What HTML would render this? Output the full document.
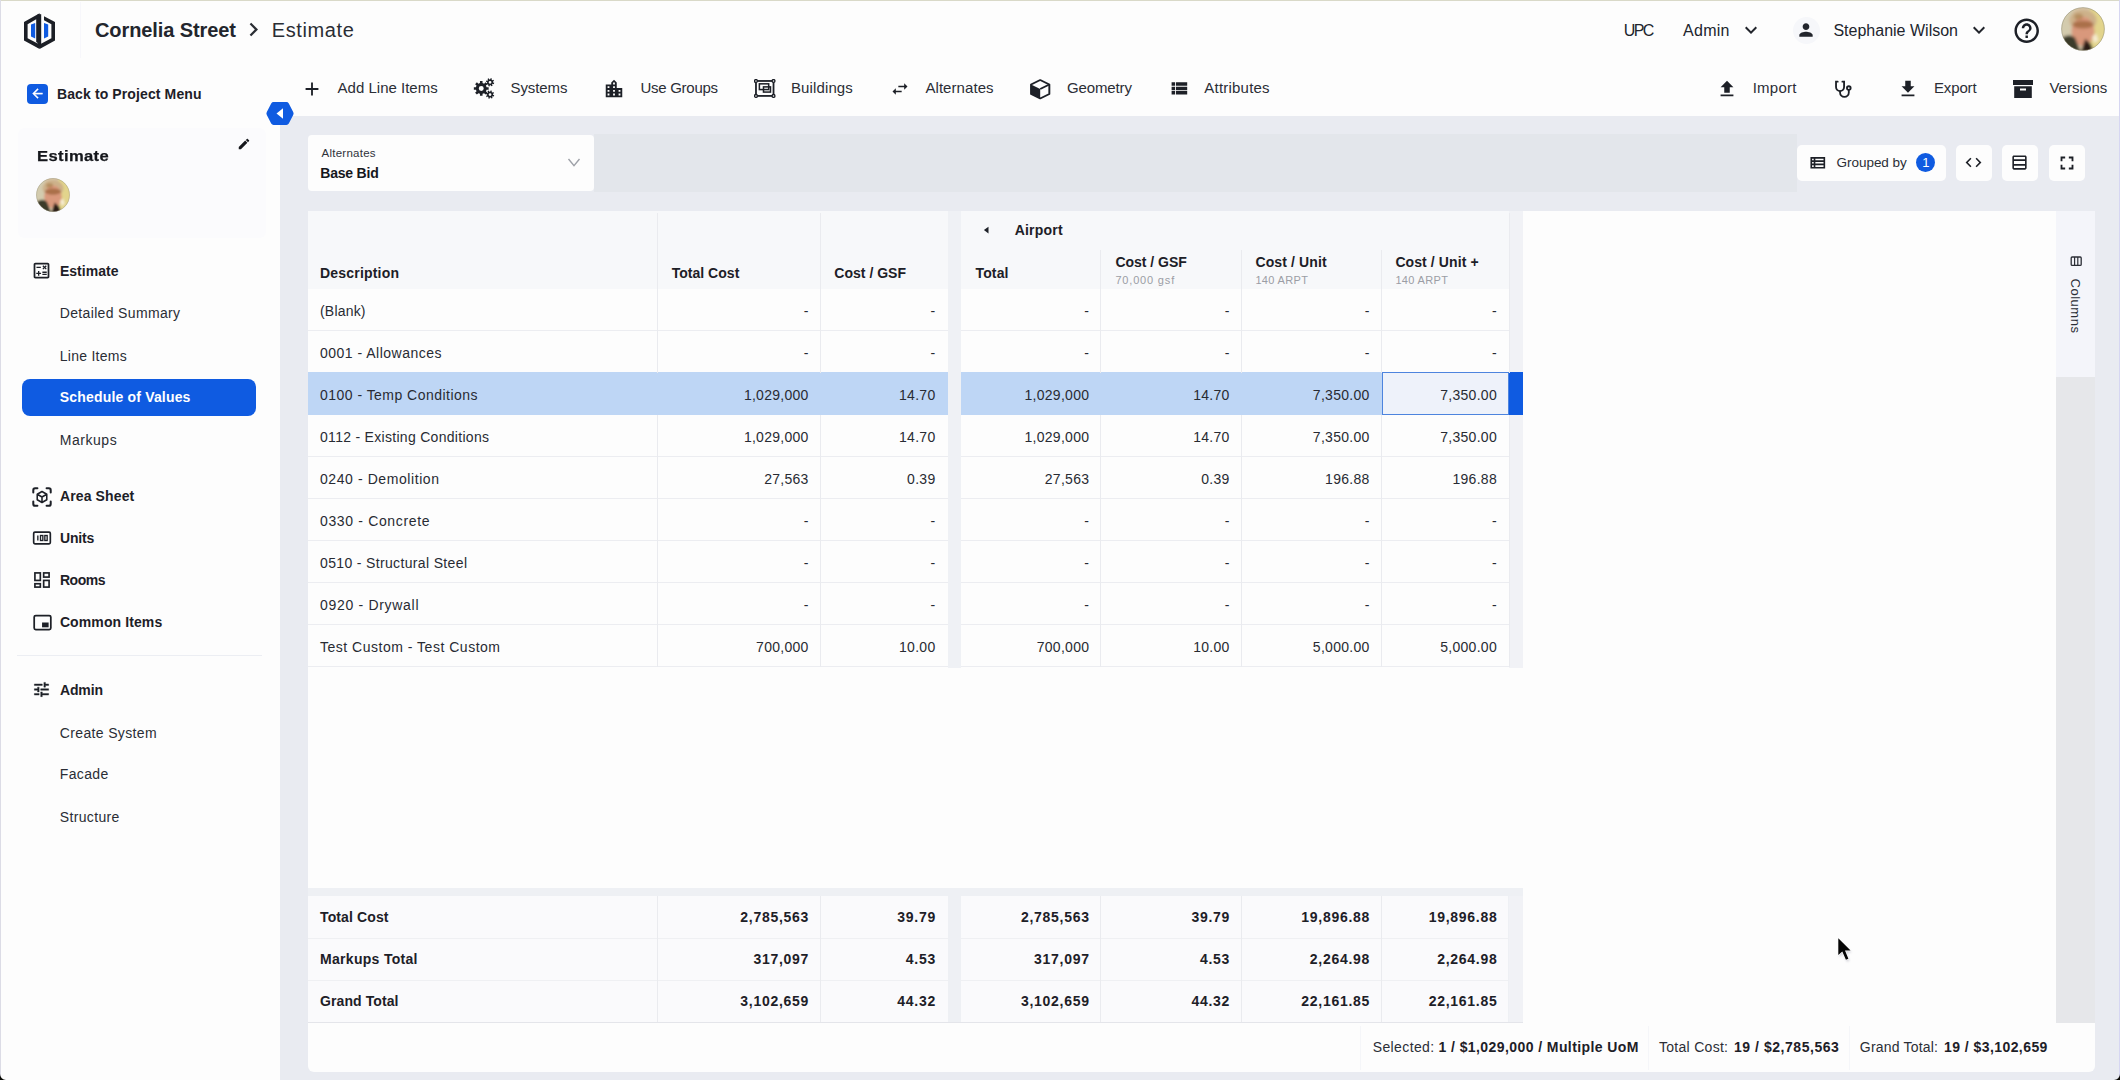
<!DOCTYPE html>
<html><head><meta charset="utf-8"><title>Estimate</title>
<style>
html,body{margin:0;padding:0;}
body{width:2120px;height:1080px;position:relative;overflow:hidden;background:#fdfdfd;font-family:"Liberation Sans",sans-serif;}
body>div,body>span,body>svg{position:absolute;}
body>span{white-space:nowrap;display:block;}
</style></head><body>
<div style="left:0px;top:0px;width:2120px;height:1080px;background:#fdfdfd;"></div>
<div style="left:280px;top:116px;width:1840px;height:964px;background:#e9ebf1;"></div>
<div style="left:18px;top:128px;width:248px;height:110px;background:#fbfbfd;border-radius:6px;"></div>
<div style="left:17px;top:655px;width:245px;height:1px;background:#eceef3;"></div>
<div style="left:0px;top:0px;width:2120px;height:1px;background:#d9d9c8;"></div>
<div style="left:0px;top:0px;width:1px;height:1080px;background:#dcdce6;"></div>
<div style="left:2119px;top:0px;width:1px;height:1080px;background:#d6d6f2;"></div>
<svg style="left:22px;top:11px;" width="36" height="40" viewBox="0 0 36 40">
<path d="M17.6 2.2 L2 11 V29.5 L17.6 38 L17.6 33.6 L5.6 27.2 V13.2 L14.2 8.3 V31 L17.6 32.9 Z" fill="#1c1f26" stroke="none"/>
<path d="M15.6 3.2 h3.6 v33.6 h-3.6z" fill="#1c1f26"/>
<path d="M22 5.2 L33 11 V29.5 L17.6 38 V33.6 L29.4 27.2 V13.2 L22 9.2 Z" fill="#1c1f26"/>
<path d="M9 13.6 L13.2 12 V27.6 L9 25.6 Z" fill="#0f5be1"/>
<path d="M22 12 L26.2 13.6 V25.6 L22 27.6 Z" fill="#0f5be1"/>
</svg>
<div style="left:80px;top:2px;width:1px;height:56px;background:#f7f7fb;"></div>
<span style="top:17.93px;font-size:20px;line-height:24.00px;color:#23262d;font-weight:700;letter-spacing:-0.090px;left:95.00px;">Cornelia Street</span>
<svg style="left:239.6px;top:15.7px;" width="27" height="27" viewBox="0 0 24 24"><path fill="#2a2d34" d="M10 6L8.59 7.41 13.17 12l-4.58 4.59L10 18l6-6z"/></svg>
<span style="top:17.93px;font-size:20px;line-height:24.00px;color:#2a2d34;letter-spacing:0.614px;left:271.70px;">Estimate</span>
<span style="top:20.58px;font-size:16px;line-height:19.20px;color:#21252d;letter-spacing:-1.591px;left:1623.80px;">UPC</span>
<span style="top:20.58px;font-size:16px;line-height:19.20px;color:#21252d;letter-spacing:0.287px;left:1683.00px;">Admin</span>
<svg style="left:1738.6px;top:18px;" width="24" height="24" viewBox="0 0 24 24"><path fill="#22252c" d="M7.41 8.59L12 13.17l4.59-4.58L18 10l-6 6-6-6 1.41-1.41z"/></svg>
<div style="left:1792.5px;top:16.5px;width:27px;height:27px;background:#f6f7fa;border-radius:50%;"></div>
<svg style="left:1796px;top:20px;" width="20" height="20" viewBox="0 0 24 24"><path fill="#22252c" d="M12 12c2.21 0 4-1.79 4-4s-1.79-4-4-4-4 1.79-4 4 1.79 4 4 4zm0 2c-2.67 0-8 1.34-8 4v2h16v-2c0-2.66-5.33-4-8-4z"/></svg>
<span style="top:20.58px;font-size:16px;line-height:19.20px;color:#21252d;letter-spacing:0.006px;left:1833.40px;">Stephanie Wilson</span>
<svg style="left:1967px;top:18px;" width="24" height="24" viewBox="0 0 24 24"><path fill="#22252c" d="M7.41 8.59L12 13.17l4.59-4.58L18 10l-6 6-6-6 1.41-1.41z"/></svg>
<svg style="left:2011.5px;top:15.8px;" width="29.4" height="29.4" viewBox="0 0 24 24"><path fill="#1d2027" d="M11 18h2v-2h-2v2zm1-16C6.48 2 2 6.48 2 12s4.48 10 10 10 10-4.48 10-10S17.52 2 12 2zm0 18c-4.41 0-8-3.59-8-8s3.59-8 8-8 8 3.59 8 8-3.59 8-8 8zm0-14c-2.21 0-4 1.79-4 4h2c0-1.1.9-2 2-2s2 .9 2 2c0 2-3 1.75-3 5h2c0-2.25 3-2.5 3-5 0-2.21-1.79-4-4-4z"/></svg>
<svg style="left:2061px;top:7px;" width="44" height="44" viewBox="0 0 100 100">
<defs><clipPath id="av2083"><circle cx="50" cy="50" r="49"/></clipPath>
<filter id="bl2083" x="-20%" y="-20%" width="140%" height="140%"><feGaussianBlur stdDeviation="3.2"/></filter></defs>
<g clip-path="url(#av2083)"><g filter="url(#bl2083)">
<rect x="-10" y="-10" width="120" height="120" fill="#d6c4a6"/>
<rect x="66" y="-10" width="44" height="120" fill="#e2d48c"/>
<rect x="-10" y="-10" width="36" height="75" fill="#d3cbae"/>
<ellipse cx="50" cy="30" rx="31" ry="24" fill="#cdb18a"/>
<ellipse cx="50" cy="55" rx="26" ry="33" fill="#d9987b"/>
<ellipse cx="50" cy="40" rx="24" ry="9" fill="#9a6238" opacity="0.75"/>
<ellipse cx="40" cy="22" rx="10" ry="7" fill="#a67c48" opacity="0.6"/>
<path d="M-5 105 L2 70 Q20 58 32 70 L46 105Z" fill="#3a3a2a"/>
<path d="M44 105 L55 72 L68 84 L76 105Z" fill="#2a1e14"/>
<path d="M70 68 L80 60 L85 76 L76 82Z" fill="#f6ecd0"/>
</g></g>
<circle cx="50" cy="50" r="48.6" fill="none" stroke="#8f8a70" stroke-width="1.6" opacity="0.75"/>
</svg>
<div style="left:26.8px;top:84px;width:20.8px;height:20.4px;background:#0f5be1;border-radius:4px;"></div>
<svg style="left:29.6px;top:86.2px;stroke:#fff;stroke-width:0.6px;" width="15" height="15" viewBox="0 0 24 24"><path fill="#ffffff" d="M20 11H7.83l5.59-5.59L12 4l-8 8 8 8 1.41-1.41L7.83 13H20v-2z"/></svg>
<span style="top:85.76px;font-size:14px;line-height:16.80px;color:#1d2027;font-weight:700;letter-spacing:0.112px;left:57.00px;">Back to Project Menu</span>
<svg style="left:266px;top:101px;" width="28" height="25" viewBox="0 0 28 25"><path d="M7.6 1 H20.4 Q22 1 22.8 2.4 L27.2 11 Q28 12.5 27.2 14 L22.8 22.6 Q22 24 20.4 24 H7.6 Q6 24 5.2 22.6 L0.8 14 Q0 12.5 0.8 11 L5.2 2.4 Q6 1 7.6 1Z" fill="#0f5be1"/><path d="M17 7.2 V17.8 L10.5 12.5Z" fill="#fff"/></svg>
<svg style="left:300.8px;top:78px;" width="22" height="22" viewBox="0 0 24 24"><path fill="#1d2027" d="M19 13h-6v6h-2v-6H5v-2h6V5h2v6h6v2z"/></svg>
<span style="top:78.97px;font-size:15px;line-height:18.00px;color:#2b2e36;left:337.60px;">Add Line Items</span>
<svg style="left:473.4px;top:76.9px;" width="22" height="22" viewBox="0 0 24 24"><path fill-rule="evenodd" fill="#1d2027" d="M17.08 11.09 L17.08 13.91 L14.83 13.90 L14.12 15.63 L15.71 17.22 L13.72 19.21 L12.13 17.62 L10.40 18.33 L10.41 20.58 L7.59 20.58 L7.60 18.33 L5.87 17.62 L4.28 19.21 L2.29 17.22 L3.88 15.63 L3.17 13.90 L0.92 13.91 L0.92 11.09 L3.17 11.10 L3.88 9.37 L2.29 7.78 L4.28 5.79 L5.87 7.38 L7.60 6.67 L7.59 4.42 L10.41 4.42 L10.40 6.67 L12.13 7.38 L13.72 5.79 L15.71 7.78 L14.12 9.37 L14.83 11.10Z M11.70 12.50 A2.7 2.7 0 1 0 6.30 12.50 A2.7 2.7 0 1 0 11.70 12.50Z"/><path fill-rule="evenodd" fill="#1d2027" d="M23.16 6.38 L22.70 7.89 L21.44 7.48 L20.78 8.28 L21.41 9.44 L20.01 10.18 L19.42 9.00 L18.39 9.09 L18.02 10.36 L16.51 9.90 L16.92 8.64 L16.12 7.98 L14.96 8.61 L14.22 7.21 L15.40 6.62 L15.31 5.59 L14.04 5.22 L14.50 3.71 L15.76 4.12 L16.42 3.32 L15.79 2.16 L17.19 1.42 L17.78 2.60 L18.81 2.51 L19.18 1.24 L20.69 1.70 L20.28 2.96 L21.08 3.62 L22.24 2.99 L22.98 4.39 L21.80 4.98 L21.89 6.01Z M20.10 5.80 A1.5 1.5 0 1 0 17.10 5.80 A1.5 1.5 0 1 0 20.10 5.80Z"/><path fill-rule="evenodd" fill="#1d2027" d="M23.16 19.78 L22.70 21.29 L21.44 20.88 L20.78 21.68 L21.41 22.84 L20.01 23.58 L19.42 22.40 L18.39 22.49 L18.02 23.76 L16.51 23.30 L16.92 22.04 L16.12 21.38 L14.96 22.01 L14.22 20.61 L15.40 20.02 L15.31 18.99 L14.04 18.62 L14.50 17.11 L15.76 17.52 L16.42 16.72 L15.79 15.56 L17.19 14.82 L17.78 16.00 L18.81 15.91 L19.18 14.64 L20.69 15.10 L20.28 16.36 L21.08 17.02 L22.24 16.39 L22.98 17.79 L21.80 18.38 L21.89 19.41Z M20.10 19.20 A1.5 1.5 0 1 0 17.10 19.20 A1.5 1.5 0 1 0 20.10 19.20Z"/></svg>
<span style="top:78.97px;font-size:15px;line-height:18.00px;color:#2b2e36;letter-spacing:-0.085px;left:510.50px;">Systems</span>
<svg style="left:603px;top:78px;" width="22" height="22" viewBox="0 0 24 24"><path fill="#1d2027" d="M15 11V5l-3-3-3 3v2H3v14h18V11h-6zm-8 8H5v-2h2v2zm0-4H5v-2h2v2zm0-4H5V9h2v2zm6 8h-2v-2h2v2zm0-4h-2v-2h2v2zm0-4h-2V9h2v2zm0-4h-2V5h2v2zm6 12h-2v-2h2v2zm0-4h-2v-2h2v2z"/></svg>
<span style="top:78.97px;font-size:15px;line-height:18.00px;color:#2b2e36;letter-spacing:-0.281px;left:640.50px;">Use Groups</span>
<svg style="left:754.4px;top:79.4px;" width="21.5" height="18.9" viewBox="0 0 24 21.1"><g fill="none" stroke="#1d2027" stroke-width="2">
<rect x="2.2" y="2.2" width="19.6" height="16.7"/>
<rect x="6" y="5.4" width="10.4" height="6.4" stroke-width="1.7"/>
<rect x="10.6" y="8.8" width="7.8" height="5.8" stroke-width="1.7"/></g>
<g fill="#fdfdfd" stroke="#1d2027" stroke-width="1.5"><circle cx="2.2" cy="2.2" r="1.6"/><circle cx="21.8" cy="2.2" r="1.6"/><circle cx="2.2" cy="18.9" r="1.6"/><circle cx="21.8" cy="18.9" r="1.6"/></g></svg>
<span style="top:78.97px;font-size:15px;line-height:18.00px;color:#2b2e36;letter-spacing:0.116px;left:791.00px;">Buildings</span>
<svg style="left:889.5px;top:78.5px;" width="20" height="20" viewBox="0 0 24 24"><path fill="#1d2027" d="M6.99 11L3 15l3.99 4v-3H14v-2H6.99v-3zM21 9l-3.99-4v3H10v2h7.01v3L21 9z"/></svg>
<span style="top:78.97px;font-size:15px;line-height:18.00px;color:#2b2e36;letter-spacing:0.074px;left:925.40px;">Alternates</span>
<svg style="left:1028.35px;top:78.05px;" width="24.4" height="22.5" viewBox="0 0 24 24" preserveAspectRatio="none"><path d="M12 2.2 L21 7 V17 L12 21.8 L3 17 V7Z" fill="none" stroke="#1d2027" stroke-width="1.9" stroke-linejoin="round"/>
<path d="M3 7 L12 11.8 V21.8 L3 17Z" fill="#1d2027"/><path d="M12 11.8 L21 7" stroke="#1d2027" stroke-width="1.9"/></svg>
<span style="top:78.97px;font-size:15px;line-height:18.00px;color:#2b2e36;letter-spacing:-0.122px;left:1067.00px;">Geometry</span>
<svg style="left:1168.9px;top:78px;" width="20.8" height="20.8" viewBox="0 0 24 24"><path fill="#1d2027" d="M3 14h4v-4H3v4zm0 5h4v-4H3v4zM3 9h4V5H3v4zm5 5h13v-4H8v4zm0 5h13v-4H8v4zM8 5v4h13V5H8z"/></svg>
<span style="top:78.97px;font-size:15px;line-height:18.00px;color:#2b2e36;letter-spacing:0.215px;left:1204.30px;">Attributes</span>
<svg style="left:1715.8px;top:77.5px;" width="22" height="22" viewBox="0 0 24 24"><path fill="#1d2027" d="M9 16h6v-6h4l-7-7-7 7h4zm-4 2h14v2H5z"/></svg>
<span style="top:78.97px;font-size:15px;line-height:18.00px;color:#2b2e36;letter-spacing:0.258px;left:1752.70px;">Import</span>
<svg style="left:1832.4px;top:78.6px;" width="21" height="21" viewBox="0 0 24 24"><g fill="none" stroke="#1d2027" stroke-width="2.1" stroke-linecap="round">
<path d="M6.5 3 H4.6 V9.2 A4.6 4.6 0 0 0 13.8 9.2 V3 H11.9"/>
<path d="M9.2 13.8 V15.5 A5 5 0 0 0 19.2 15.5 V12.6"/>
<circle cx="19.2" cy="10.4" r="2.1"/></g></svg>
<svg style="left:1896.5px;top:77.5px;" width="22" height="22" viewBox="0 0 24 24"><path fill="#1d2027" d="M19 9h-4V3H9v6H5l7 7 7-7zM5 18v2h14v-2H5z"/></svg>
<span style="top:78.97px;font-size:15px;line-height:18.00px;color:#2b2e36;letter-spacing:-0.150px;left:1934.00px;">Export</span>
<svg style="left:2011.3px;top:77px;" width="24" height="24" viewBox="0 0 24 24"><path d="M2 3 H22 V8 H2Z" fill="#1d2027"/><path d="M3.2 9.2 H20.8 V21 H3.2Z M9 11.6 H15 V13.6 H9Z" fill="#1d2027" fill-rule="evenodd"/></svg>
<span style="top:78.97px;font-size:15px;line-height:18.00px;color:#2b2e36;letter-spacing:0.053px;left:2049.40px;">Versions</span>
<span style="top:146.58px;font-size:15.5px;line-height:18.60px;color:#15171c;font-weight:700;letter-spacing:0.343px;left:36.50px;transform:scaleX(1.07);transform-origin:0 0;-webkit-text-stroke:0.25px #15171c;">Estimate</span>
<svg style="left:236.5px;top:137px;" width="14" height="14" viewBox="0 0 24 24"><path fill="#15171c" d="M3 17.25V21h3.75L17.81 9.94l-3.75-3.75L3 17.25zM20.71 7.04c.39-.39.39-1.02 0-1.41l-2.34-2.34c-.39-.39-1.02-.39-1.41 0l-1.83 1.83 3.75 3.75 1.83-1.83z"/></svg>
<svg style="left:36.3px;top:178px;" width="34" height="34" viewBox="0 0 100 100">
<defs><clipPath id="av53"><circle cx="50" cy="50" r="49"/></clipPath>
<filter id="bl53" x="-20%" y="-20%" width="140%" height="140%"><feGaussianBlur stdDeviation="3.2"/></filter></defs>
<g clip-path="url(#av53)"><g filter="url(#bl53)">
<rect x="-10" y="-10" width="120" height="120" fill="#d6c4a6"/>
<rect x="66" y="-10" width="44" height="120" fill="#e2d48c"/>
<rect x="-10" y="-10" width="36" height="75" fill="#d3cbae"/>
<ellipse cx="50" cy="30" rx="31" ry="24" fill="#cdb18a"/>
<ellipse cx="50" cy="55" rx="26" ry="33" fill="#d9987b"/>
<ellipse cx="50" cy="40" rx="24" ry="9" fill="#9a6238" opacity="0.75"/>
<ellipse cx="40" cy="22" rx="10" ry="7" fill="#a67c48" opacity="0.6"/>
<path d="M-5 105 L2 70 Q20 58 32 70 L46 105Z" fill="#3a3a2a"/>
<path d="M44 105 L55 72 L68 84 L76 105Z" fill="#2a1e14"/>
<path d="M70 68 L80 60 L85 76 L76 82Z" fill="#f6ecd0"/>
</g></g>
<circle cx="50" cy="50" r="48.6" fill="none" stroke="#8f8a70" stroke-width="1.6" opacity="0.75"/>
</svg>
<svg style="left:31.4px;top:259.9px;" width="21" height="21" viewBox="0 0 24 24"><path fill="#1d2027" d="M19 3H5c-1.1 0-2 .9-2 2v14c0 1.1.9 2 2 2h14c1.1 0 2-.9 2-2V5c0-1.1-.9-2-2-2zm0 16H5V5h14v14z M6.25 7.72h5v1.5h-5z M13 15.75h5v1.5h-5z M13 13.25h5v1.5h-5z M8 18h1.5v-2h2v-1.5h-2v-2H8v2H6V16h2z M14.09 10.95l1.41-1.41 1.41 1.41 1.06-1.06-1.41-1.42 1.41-1.41L16.91 6 15.5 7.41 14.09 6l-1.06 1.06 1.41 1.41-1.41 1.42z"/></svg>
<span style="top:263.06px;font-size:14px;line-height:16.80px;color:#1d2027;font-weight:700;letter-spacing:0.034px;left:59.90px;">Estimate</span>
<span style="top:305.36px;font-size:14px;line-height:16.80px;color:#2a2d35;letter-spacing:0.337px;left:59.80px;">Detailed Summary</span>
<span style="top:347.66px;font-size:14px;line-height:16.80px;color:#2a2d35;letter-spacing:0.257px;left:59.80px;">Line Items</span>
<div style="left:22px;top:379.4px;width:233.8px;height:36.8px;background:#0f5be1;border-radius:8px;"></div>
<span style="top:389.46px;font-size:14px;line-height:16.80px;color:#ffffff;font-weight:700;letter-spacing:0.176px;left:59.80px;">Schedule of Values</span>
<span style="top:431.76px;font-size:14px;line-height:16.80px;color:#2a2d35;letter-spacing:0.536px;left:59.80px;">Markups</span>
<svg style="left:31px;top:485.5px;" width="22" height="22" viewBox="0 0 24 24"><g fill="none" stroke="#1d2027" stroke-width="2.2" stroke-linecap="round" stroke-linejoin="round">
<path d="M2.5 7 V4.5 Q2.5 2.5 4.5 2.5 H7 M17 2.5 H19.5 Q21.5 2.5 21.5 4.5 V7 M21.5 17 V19.5 Q21.5 21.5 19.5 21.5 H17 M7 21.5 H4.5 Q2.5 21.5 2.5 19.5 V17"/>
<path d="M12 6 L17.2 9 V15 L12 18 L6.8 15 V9Z M6.8 9 L12 12 L17.2 9 M12 12 V18" stroke-width="1.7"/></g></svg>
<span style="top:487.76px;font-size:14px;line-height:16.80px;color:#1d2027;font-weight:700;letter-spacing:0.139px;left:59.90px;">Area Sheet</span>
<svg style="left:32px;top:528px;" width="20" height="20" viewBox="0 0 24 24"><rect x="2" y="5" width="20" height="14" rx="1.5" fill="none" stroke="#1d2027" stroke-width="2"/>
<g fill="none" stroke="#1d2027" stroke-width="1.6"><path d="M7 9 V15"/><rect x="10.2" y="9" width="2.8" height="6"/><rect x="15.4" y="9" width="2.8" height="6"/></g></svg>
<span style="top:529.76px;font-size:14px;line-height:16.80px;color:#1d2027;font-weight:700;letter-spacing:-0.125px;left:59.90px;">Units</span>
<svg style="left:32px;top:570px;" width="20" height="20" viewBox="0 0 24 24"><g fill="none" stroke="#1d2027" stroke-width="2"><rect x="3.5" y="3.5" width="6.5" height="9"/><rect x="14" y="3.5" width="6.5" height="5"/><rect x="14" y="12.5" width="6.5" height="8"/><rect x="3.5" y="16.5" width="6.5" height="4"/></g></svg>
<span style="top:572.26px;font-size:14px;line-height:16.80px;color:#1d2027;font-weight:700;letter-spacing:-0.437px;left:59.90px;">Rooms</span>
<svg style="left:31.5px;top:612px;" width="21" height="21" viewBox="0 0 24 24"><rect x="2.5" y="4" width="19" height="16" rx="1.8" fill="none" stroke="#1d2027" stroke-width="2"/><rect x="11.5" y="12" width="7.5" height="5.5" fill="#1d2027"/></svg>
<span style="top:614.06px;font-size:14px;line-height:16.80px;color:#1d2027;font-weight:700;letter-spacing:0.107px;left:59.90px;">Common Items</span>
<svg style="left:32px;top:680px;stroke:#1d2027;stroke-width:0.5px;" width="19" height="19" viewBox="0 0 24 24"><path fill="#1d2027" d="M3 17v2h6v-2H3zM3 5v2h10V5H3zm10 16v-2h8v-2h-8v-2h-2v6h2zM7 9v2H3v2h4v2h2V9H7zm14 4v-2H11v2h10zm-6-4h2V7h4V5h-4V3h-2v6z"/></svg>
<span style="top:681.56px;font-size:14px;line-height:16.80px;color:#1d2027;font-weight:700;letter-spacing:-0.113px;left:59.90px;">Admin</span>
<span style="top:724.76px;font-size:14px;line-height:16.80px;color:#2a2d35;letter-spacing:0.350px;left:59.80px;">Create System</span>
<span style="top:766.36px;font-size:14px;line-height:16.80px;color:#2a2d35;letter-spacing:0.350px;left:59.80px;">Facade</span>
<span style="top:808.96px;font-size:14px;line-height:16.80px;color:#2a2d35;letter-spacing:0.350px;left:59.80px;">Structure</span>
<svg style="left:0px;top:1074px;" width="6" height="6" viewBox="0 0 8 8"><path d="M0 0 V8 H8 A8 8 0 0 1 0 0Z" fill="#0a0a05"/></svg>
<svg style="left:2114px;top:1074px;" width="6" height="6" viewBox="0 0 8 8"><path d="M8 0 V8 H0 A8 8 0 0 0 8 0Z" fill="#0a0a05"/></svg>
<div style="left:594px;top:134px;width:1203px;height:57.5px;background:#e3e6eb;"></div>
<div style="left:308px;top:135px;width:286px;height:56px;background:#fdfdfd;border-radius:4px;"></div>
<span style="top:147.03px;font-size:11.5px;line-height:13.80px;color:#2f323a;letter-spacing:0.250px;left:321.50px;">Alternates</span>
<span style="top:164.96px;font-size:14px;line-height:16.80px;color:#15171c;font-weight:700;letter-spacing:-0.216px;left:320.30px;">Base Bid</span>
<svg style="left:567px;top:157px;" width="14" height="11" viewBox="0 0 14 11"><path d="M1.5 2 L7 8.6 L12.5 2" fill="none" stroke="#9ea1a8" stroke-width="1.4"/></svg>
<div style="left:1797px;top:144.5px;width:148.5px;height:36px;background:#fdfdfd;border-radius:5px;"></div>
<svg style="left:1807.5px;top:152.8px;" width="19.6" height="19.6" viewBox="0 0 24 24"><path fill="#1d2027" d="M3 5v14h18V5H3zm4 2v2H5V7h2zm-2 6v-2h2v2H5zm0 2h2v2H5v-2zm14 2H9v-2h10v2zm0-4H9v-2h10v2zm0-4H9V7h10v2z"/></svg>
<span style="top:154.56px;font-size:13.5px;line-height:16.20px;color:#2b2e36;letter-spacing:-0.027px;left:1836.50px;">Grouped by</span>
<div style="left:1916px;top:152.8px;width:19.4px;height:19.4px;background:#0f5be1;border-radius:50%;"></div>
<span style="top:154.85px;font-size:13px;line-height:15.60px;color:#ffffff;left:1922.20px;">1</span>
<div style="left:1955.5px;top:144.5px;width:36px;height:36px;background:#fdfdfd;border-radius:5px;"></div>
<svg style="left:1964px;top:153px;" width="19" height="19" viewBox="0 0 24 24"><path fill="#1d2027" d="M9.4 16.6L4.8 12l4.6-4.6L8 6l-6 6 6 6 1.4-1.4zm5.2 0l4.6-4.6-4.6-4.6L16 6l6 6-6 6-1.4-1.4z"/></svg>
<div style="left:2002px;top:144.5px;width:36px;height:36px;background:#fdfdfd;border-radius:5px;"></div>
<svg style="left:2009.8px;top:153.3px;" width="19" height="19" viewBox="0 0 24 24"><path fill="#1d2027" d="M19 3H5c-1.1 0-2 .9-2 2v14c0 1.1.9 2 2 2h14c1.1 0 2-.9 2-2V5c0-1.1-.9-2-2-2zm0 2v3H5V5h14zm0 5v4H5v-4h14zM5 19v-3h14v3H5z"/></svg>
<div style="left:2049px;top:144.5px;width:36px;height:36px;background:#fdfdfd;border-radius:5px;"></div>
<svg style="left:2056px;top:151.5px;" width="22" height="22" viewBox="0 0 24 24"><path fill="#1d2027" d="M7 14H5v5h5v-2H7v-3zm-2-4h2V7h3V5H5v5zm12 7h-3v2h5v-5h-2v3zM14 5v2h3v3h2V5h-5z"/></svg>
<div style="left:308px;top:211px;width:1787px;height:861px;background:#fdfdfd;border-radius:3px 3px 6px 6px;"></div>
<div style="left:308px;top:211px;width:639.5px;height:77.6px;background:#f7f8fa;"></div>
<div style="left:961px;top:211px;width:561.5px;height:77.6px;background:#f7f8fa;"></div>
<div style="left:947.5px;top:211px;width:13.5px;height:457px;background:#eff1f5;"></div>
<div style="left:1509px;top:211px;width:14px;height:457px;background:#f1f2f6;"></div>
<div style="left:2056px;top:211px;width:38.5px;height:812px;background:#e6e7ea;"></div>
<div style="left:2056px;top:211px;width:38.5px;height:166px;background:#f4f5fa;"></div>
<svg style="left:2069.6px;top:256.2px;" width="12.4" height="11" viewBox="0 0 12 11"><rect x="1" y="1" width="10" height="8.4" rx="1" fill="none" stroke="#2b2e36" stroke-width="1.3"/><path d="M4.4 1V9.4M7.6 1V9.4" stroke="#2b2e36" stroke-width="1.2"/></svg>
<span style="left:2075.4px;top:306px;font-size:13px;line-height:16px;color:#2b2e36;letter-spacing:0.5px;transform:translate(-50%,-50%) rotate(90deg);">Columns</span>
<div style="left:308px;top:372.3px;width:639.5px;height:42.4px;background:#bed6f5;"></div>
<div style="left:961px;top:372.3px;width:420.5px;height:42.4px;background:#bed6f5;"></div>
<div style="left:1381.5px;top:372.3px;width:127.5px;height:42.4px;background:#eef2fa;border:1.3px solid #4d84de;box-sizing:border-box;"></div>
<div style="left:1509px;top:372.3px;width:13.6px;height:42.4px;background:#0f5be1;"></div>
<div style="left:308px;top:330.1px;width:639.5px;height:1px;background:#ecedf1;"></div>
<div style="left:961px;top:330.1px;width:548px;height:1px;background:#ecedf1;"></div>
<div style="left:308px;top:456.1px;width:639.5px;height:1px;background:#ecedf1;"></div>
<div style="left:961px;top:456.1px;width:548px;height:1px;background:#ecedf1;"></div>
<div style="left:308px;top:498.1px;width:639.5px;height:1px;background:#ecedf1;"></div>
<div style="left:961px;top:498.1px;width:548px;height:1px;background:#ecedf1;"></div>
<div style="left:308px;top:540.1px;width:639.5px;height:1px;background:#ecedf1;"></div>
<div style="left:961px;top:540.1px;width:548px;height:1px;background:#ecedf1;"></div>
<div style="left:308px;top:582.1px;width:639.5px;height:1px;background:#ecedf1;"></div>
<div style="left:961px;top:582.1px;width:548px;height:1px;background:#ecedf1;"></div>
<div style="left:308px;top:624.1px;width:639.5px;height:1px;background:#ecedf1;"></div>
<div style="left:961px;top:624.1px;width:548px;height:1px;background:#ecedf1;"></div>
<div style="left:308px;top:666.1px;width:639.5px;height:1px;background:#ecedf1;"></div>
<div style="left:961px;top:666.1px;width:548px;height:1px;background:#ecedf1;"></div>
<div style="left:656.5px;top:213px;width:1px;height:159.60000000000002px;background:#eaebef;"></div>
<div style="left:656.5px;top:414.6px;width:1px;height:252.0px;background:#eaebef;"></div>
<div style="left:819.5px;top:213px;width:1px;height:159.60000000000002px;background:#eaebef;"></div>
<div style="left:819.5px;top:414.6px;width:1px;height:252.0px;background:#eaebef;"></div>
<div style="left:1100.1px;top:250px;width:1px;height:122.60000000000002px;background:#eaebef;"></div>
<div style="left:1100.1px;top:414.6px;width:1px;height:252.0px;background:#eaebef;"></div>
<div style="left:1240.5px;top:250px;width:1px;height:122.60000000000002px;background:#eaebef;"></div>
<div style="left:1240.5px;top:414.6px;width:1px;height:252.0px;background:#eaebef;"></div>
<div style="left:1381.0px;top:250px;width:1px;height:122.60000000000002px;background:#eaebef;"></div>
<div style="left:1381.0px;top:414.6px;width:1px;height:252.0px;background:#eaebef;"></div>
<div style="left:1508.5px;top:213px;width:1px;height:159.60000000000002px;background:#eaebef;"></div>
<div style="left:1508.5px;top:414.6px;width:1px;height:252.0px;background:#eaebef;"></div>
<span style="top:264.56px;font-size:14px;line-height:16.80px;color:#1d2027;font-weight:700;letter-spacing:0.199px;left:320.00px;">Description</span>
<span style="top:264.56px;font-size:14px;line-height:16.80px;color:#1d2027;font-weight:700;letter-spacing:0.022px;left:671.70px;">Total Cost</span>
<span style="top:264.56px;font-size:14px;line-height:16.80px;color:#1d2027;font-weight:700;letter-spacing:0.016px;left:834.30px;">Cost / GSF</span>
<svg style="left:983.2px;top:226.4px;" width="6.4" height="8.2" viewBox="0 0 7 9"><path d="M6 0.8 V8.2 L1 4.5Z" fill="#1d2027"/></svg>
<span style="top:222.16px;font-size:14px;line-height:16.80px;color:#1d2027;font-weight:700;letter-spacing:0.206px;left:1014.70px;">Airport</span>
<span style="top:264.56px;font-size:14px;line-height:16.80px;color:#1d2027;font-weight:700;letter-spacing:0.149px;left:975.50px;">Total</span>
<span style="top:253.66px;font-size:14px;line-height:16.80px;color:#1d2027;font-weight:700;letter-spacing:-0.018px;left:1115.40px;">Cost / GSF</span>
<span style="top:274.33px;font-size:11px;line-height:13.20px;color:#9b9da5;letter-spacing:0.825px;left:1115.40px;">70,000 gsf</span>
<span style="top:253.66px;font-size:14px;line-height:16.80px;color:#1d2027;font-weight:700;letter-spacing:0.131px;left:1255.40px;">Cost / Unit</span>
<span style="top:274.33px;font-size:11px;line-height:13.20px;color:#9b9da5;letter-spacing:0.351px;left:1255.40px;">140 ARPT</span>
<span style="top:253.66px;font-size:14px;line-height:16.80px;color:#1d2027;font-weight:700;letter-spacing:0.095px;left:1395.40px;">Cost / Unit +</span>
<span style="top:274.33px;font-size:11px;line-height:13.20px;color:#9b9da5;letter-spacing:0.351px;left:1395.40px;">140 ARPT</span>
<span style="top:302.56px;font-size:14px;line-height:16.80px;color:#282b33;letter-spacing:0.192px;left:320.00px;">(Blank)</span>
<span style="top:302.56px;font-size:14px;line-height:16.80px;color:#282b33;letter-spacing:0.280px;right:1311.32px;text-align:right;">-</span>
<span style="top:302.56px;font-size:14px;line-height:16.80px;color:#282b33;letter-spacing:0.280px;right:1184.52px;text-align:right;">-</span>
<span style="top:302.56px;font-size:14px;line-height:16.80px;color:#282b33;letter-spacing:0.280px;right:1030.72px;text-align:right;">-</span>
<span style="top:302.56px;font-size:14px;line-height:16.80px;color:#282b33;letter-spacing:0.280px;right:890.42px;text-align:right;">-</span>
<span style="top:302.56px;font-size:14px;line-height:16.80px;color:#282b33;letter-spacing:0.280px;right:750.42px;text-align:right;">-</span>
<span style="top:302.56px;font-size:14px;line-height:16.80px;color:#282b33;letter-spacing:0.280px;right:623.02px;text-align:right;">-</span>
<span style="top:344.56px;font-size:14px;line-height:16.80px;color:#282b33;letter-spacing:0.492px;left:320.00px;">0001 - Allowances</span>
<span style="top:344.56px;font-size:14px;line-height:16.80px;color:#282b33;letter-spacing:0.280px;right:1311.32px;text-align:right;">-</span>
<span style="top:344.56px;font-size:14px;line-height:16.80px;color:#282b33;letter-spacing:0.280px;right:1184.52px;text-align:right;">-</span>
<span style="top:344.56px;font-size:14px;line-height:16.80px;color:#282b33;letter-spacing:0.280px;right:1030.72px;text-align:right;">-</span>
<span style="top:344.56px;font-size:14px;line-height:16.80px;color:#282b33;letter-spacing:0.280px;right:890.42px;text-align:right;">-</span>
<span style="top:344.56px;font-size:14px;line-height:16.80px;color:#282b33;letter-spacing:0.280px;right:750.42px;text-align:right;">-</span>
<span style="top:344.56px;font-size:14px;line-height:16.80px;color:#282b33;letter-spacing:0.280px;right:623.02px;text-align:right;">-</span>
<span style="top:386.56px;font-size:14px;line-height:16.80px;color:#282b33;letter-spacing:0.471px;left:320.00px;">0100 - Temp Conditions</span>
<span style="top:386.56px;font-size:14px;line-height:16.80px;color:#282b33;letter-spacing:0.280px;right:1311.32px;text-align:right;">1,029,000</span>
<span style="top:386.56px;font-size:14px;line-height:16.80px;color:#282b33;letter-spacing:0.280px;right:1184.52px;text-align:right;">14.70</span>
<span style="top:386.56px;font-size:14px;line-height:16.80px;color:#282b33;letter-spacing:0.280px;right:1030.72px;text-align:right;">1,029,000</span>
<span style="top:386.56px;font-size:14px;line-height:16.80px;color:#282b33;letter-spacing:0.280px;right:890.42px;text-align:right;">14.70</span>
<span style="top:386.56px;font-size:14px;line-height:16.80px;color:#282b33;letter-spacing:0.280px;right:750.42px;text-align:right;">7,350.00</span>
<span style="top:386.56px;font-size:14px;line-height:16.80px;color:#282b33;letter-spacing:0.280px;right:623.02px;text-align:right;">7,350.00</span>
<span style="top:428.56px;font-size:14px;line-height:16.80px;color:#282b33;letter-spacing:0.296px;left:320.00px;">0112 - Existing Conditions</span>
<span style="top:428.56px;font-size:14px;line-height:16.80px;color:#282b33;letter-spacing:0.280px;right:1311.32px;text-align:right;">1,029,000</span>
<span style="top:428.56px;font-size:14px;line-height:16.80px;color:#282b33;letter-spacing:0.280px;right:1184.52px;text-align:right;">14.70</span>
<span style="top:428.56px;font-size:14px;line-height:16.80px;color:#282b33;letter-spacing:0.280px;right:1030.72px;text-align:right;">1,029,000</span>
<span style="top:428.56px;font-size:14px;line-height:16.80px;color:#282b33;letter-spacing:0.280px;right:890.42px;text-align:right;">14.70</span>
<span style="top:428.56px;font-size:14px;line-height:16.80px;color:#282b33;letter-spacing:0.280px;right:750.42px;text-align:right;">7,350.00</span>
<span style="top:428.56px;font-size:14px;line-height:16.80px;color:#282b33;letter-spacing:0.280px;right:623.02px;text-align:right;">7,350.00</span>
<span style="top:470.56px;font-size:14px;line-height:16.80px;color:#282b33;letter-spacing:0.580px;left:320.00px;">0240 - Demolition</span>
<span style="top:470.56px;font-size:14px;line-height:16.80px;color:#282b33;letter-spacing:0.280px;right:1311.32px;text-align:right;">27,563</span>
<span style="top:470.56px;font-size:14px;line-height:16.80px;color:#282b33;letter-spacing:0.280px;right:1184.52px;text-align:right;">0.39</span>
<span style="top:470.56px;font-size:14px;line-height:16.80px;color:#282b33;letter-spacing:0.280px;right:1030.72px;text-align:right;">27,563</span>
<span style="top:470.56px;font-size:14px;line-height:16.80px;color:#282b33;letter-spacing:0.280px;right:890.42px;text-align:right;">0.39</span>
<span style="top:470.56px;font-size:14px;line-height:16.80px;color:#282b33;letter-spacing:0.280px;right:750.42px;text-align:right;">196.88</span>
<span style="top:470.56px;font-size:14px;line-height:16.80px;color:#282b33;letter-spacing:0.280px;right:623.02px;text-align:right;">196.88</span>
<span style="top:512.56px;font-size:14px;line-height:16.80px;color:#282b33;letter-spacing:0.650px;left:320.00px;">0330 - Concrete</span>
<span style="top:512.56px;font-size:14px;line-height:16.80px;color:#282b33;letter-spacing:0.280px;right:1311.32px;text-align:right;">-</span>
<span style="top:512.56px;font-size:14px;line-height:16.80px;color:#282b33;letter-spacing:0.280px;right:1184.52px;text-align:right;">-</span>
<span style="top:512.56px;font-size:14px;line-height:16.80px;color:#282b33;letter-spacing:0.280px;right:1030.72px;text-align:right;">-</span>
<span style="top:512.56px;font-size:14px;line-height:16.80px;color:#282b33;letter-spacing:0.280px;right:890.42px;text-align:right;">-</span>
<span style="top:512.56px;font-size:14px;line-height:16.80px;color:#282b33;letter-spacing:0.280px;right:750.42px;text-align:right;">-</span>
<span style="top:512.56px;font-size:14px;line-height:16.80px;color:#282b33;letter-spacing:0.280px;right:623.02px;text-align:right;">-</span>
<span style="top:554.56px;font-size:14px;line-height:16.80px;color:#282b33;letter-spacing:0.350px;left:320.00px;">0510 - Structural Steel</span>
<span style="top:554.56px;font-size:14px;line-height:16.80px;color:#282b33;letter-spacing:0.280px;right:1311.32px;text-align:right;">-</span>
<span style="top:554.56px;font-size:14px;line-height:16.80px;color:#282b33;letter-spacing:0.280px;right:1184.52px;text-align:right;">-</span>
<span style="top:554.56px;font-size:14px;line-height:16.80px;color:#282b33;letter-spacing:0.280px;right:1030.72px;text-align:right;">-</span>
<span style="top:554.56px;font-size:14px;line-height:16.80px;color:#282b33;letter-spacing:0.280px;right:890.42px;text-align:right;">-</span>
<span style="top:554.56px;font-size:14px;line-height:16.80px;color:#282b33;letter-spacing:0.280px;right:750.42px;text-align:right;">-</span>
<span style="top:554.56px;font-size:14px;line-height:16.80px;color:#282b33;letter-spacing:0.280px;right:623.02px;text-align:right;">-</span>
<span style="top:596.56px;font-size:14px;line-height:16.80px;color:#282b33;letter-spacing:0.694px;left:320.00px;">0920 - Drywall</span>
<span style="top:596.56px;font-size:14px;line-height:16.80px;color:#282b33;letter-spacing:0.280px;right:1311.32px;text-align:right;">-</span>
<span style="top:596.56px;font-size:14px;line-height:16.80px;color:#282b33;letter-spacing:0.280px;right:1184.52px;text-align:right;">-</span>
<span style="top:596.56px;font-size:14px;line-height:16.80px;color:#282b33;letter-spacing:0.280px;right:1030.72px;text-align:right;">-</span>
<span style="top:596.56px;font-size:14px;line-height:16.80px;color:#282b33;letter-spacing:0.280px;right:890.42px;text-align:right;">-</span>
<span style="top:596.56px;font-size:14px;line-height:16.80px;color:#282b33;letter-spacing:0.280px;right:750.42px;text-align:right;">-</span>
<span style="top:596.56px;font-size:14px;line-height:16.80px;color:#282b33;letter-spacing:0.280px;right:623.02px;text-align:right;">-</span>
<span style="top:638.56px;font-size:14px;line-height:16.80px;color:#282b33;letter-spacing:0.509px;left:320.00px;">Test Custom - Test Custom</span>
<span style="top:638.56px;font-size:14px;line-height:16.80px;color:#282b33;letter-spacing:0.280px;right:1311.32px;text-align:right;">700,000</span>
<span style="top:638.56px;font-size:14px;line-height:16.80px;color:#282b33;letter-spacing:0.280px;right:1184.52px;text-align:right;">10.00</span>
<span style="top:638.56px;font-size:14px;line-height:16.80px;color:#282b33;letter-spacing:0.280px;right:1030.72px;text-align:right;">700,000</span>
<span style="top:638.56px;font-size:14px;line-height:16.80px;color:#282b33;letter-spacing:0.280px;right:890.42px;text-align:right;">10.00</span>
<span style="top:638.56px;font-size:14px;line-height:16.80px;color:#282b33;letter-spacing:0.280px;right:750.42px;text-align:right;">5,000.00</span>
<span style="top:638.56px;font-size:14px;line-height:16.80px;color:#282b33;letter-spacing:0.280px;right:623.02px;text-align:right;">5,000.00</span>
<div style="left:308px;top:888px;width:1214.5px;height:134.4px;background:#eef0f4;"></div>
<div style="left:308px;top:896px;width:639.5px;height:126.4px;background:#fafafc;"></div>
<div style="left:961px;top:896px;width:547.3px;height:126.4px;background:#fafafc;"></div>
<div style="left:1509px;top:896px;width:14.2px;height:126.4px;background:#f1f2f6;"></div>
<div style="left:308px;top:937.65px;width:639.5px;height:1px;background:#eff0f3;"></div>
<div style="left:961px;top:937.65px;width:547.3px;height:1px;background:#eff0f3;"></div>
<div style="left:308px;top:979.8px;width:639.5px;height:1px;background:#eff0f3;"></div>
<div style="left:961px;top:979.8px;width:547.3px;height:1px;background:#eff0f3;"></div>
<div style="left:308px;top:1022px;width:1214.5px;height:1px;background:#e4e5ea;"></div>
<div style="left:656.5px;top:896px;width:1px;height:126.39999999999998px;background:#eaebef;"></div>
<div style="left:819.5px;top:896px;width:1px;height:126.39999999999998px;background:#eaebef;"></div>
<div style="left:1100.1px;top:896px;width:1px;height:126.39999999999998px;background:#eaebef;"></div>
<div style="left:1240.5px;top:896px;width:1px;height:126.39999999999998px;background:#eaebef;"></div>
<div style="left:1381.0px;top:896px;width:1px;height:126.39999999999998px;background:#eaebef;"></div>
<span style="top:908.76px;font-size:14px;line-height:16.80px;color:#1d2027;font-weight:700;letter-spacing:0.122px;left:320.00px;">Total Cost</span>
<span style="top:908.76px;font-size:14px;line-height:16.80px;color:#1d2027;font-weight:700;letter-spacing:0.720px;right:1310.88px;text-align:right;">2,785,563</span>
<span style="top:908.76px;font-size:14px;line-height:16.80px;color:#1d2027;font-weight:700;letter-spacing:0.720px;right:1184.08px;text-align:right;">39.79</span>
<span style="top:908.76px;font-size:14px;line-height:16.80px;color:#1d2027;font-weight:700;letter-spacing:0.720px;right:1030.28px;text-align:right;">2,785,563</span>
<span style="top:908.76px;font-size:14px;line-height:16.80px;color:#1d2027;font-weight:700;letter-spacing:0.720px;right:889.98px;text-align:right;">39.79</span>
<span style="top:908.76px;font-size:14px;line-height:16.80px;color:#1d2027;font-weight:700;letter-spacing:0.720px;right:749.98px;text-align:right;">19,896.88</span>
<span style="top:908.76px;font-size:14px;line-height:16.80px;color:#1d2027;font-weight:700;letter-spacing:0.720px;right:622.58px;text-align:right;">19,896.88</span>
<span style="top:950.96px;font-size:14px;line-height:16.80px;color:#1d2027;font-weight:700;letter-spacing:0.303px;left:320.00px;">Markups Total</span>
<span style="top:950.96px;font-size:14px;line-height:16.80px;color:#1d2027;font-weight:700;letter-spacing:0.720px;right:1310.88px;text-align:right;">317,097</span>
<span style="top:950.96px;font-size:14px;line-height:16.80px;color:#1d2027;font-weight:700;letter-spacing:0.720px;right:1184.08px;text-align:right;">4.53</span>
<span style="top:950.96px;font-size:14px;line-height:16.80px;color:#1d2027;font-weight:700;letter-spacing:0.720px;right:1030.28px;text-align:right;">317,097</span>
<span style="top:950.96px;font-size:14px;line-height:16.80px;color:#1d2027;font-weight:700;letter-spacing:0.720px;right:889.98px;text-align:right;">4.53</span>
<span style="top:950.96px;font-size:14px;line-height:16.80px;color:#1d2027;font-weight:700;letter-spacing:0.720px;right:749.98px;text-align:right;">2,264.98</span>
<span style="top:950.96px;font-size:14px;line-height:16.80px;color:#1d2027;font-weight:700;letter-spacing:0.720px;right:622.58px;text-align:right;">2,264.98</span>
<span style="top:993.16px;font-size:14px;line-height:16.80px;color:#1d2027;font-weight:700;letter-spacing:0.098px;left:320.00px;">Grand Total</span>
<span style="top:993.16px;font-size:14px;line-height:16.80px;color:#1d2027;font-weight:700;letter-spacing:0.720px;right:1310.88px;text-align:right;">3,102,659</span>
<span style="top:993.16px;font-size:14px;line-height:16.80px;color:#1d2027;font-weight:700;letter-spacing:0.720px;right:1184.08px;text-align:right;">44.32</span>
<span style="top:993.16px;font-size:14px;line-height:16.80px;color:#1d2027;font-weight:700;letter-spacing:0.720px;right:1030.28px;text-align:right;">3,102,659</span>
<span style="top:993.16px;font-size:14px;line-height:16.80px;color:#1d2027;font-weight:700;letter-spacing:0.720px;right:889.98px;text-align:right;">44.32</span>
<span style="top:993.16px;font-size:14px;line-height:16.80px;color:#1d2027;font-weight:700;letter-spacing:0.720px;right:749.98px;text-align:right;">22,161.85</span>
<span style="top:993.16px;font-size:14px;line-height:16.80px;color:#1d2027;font-weight:700;letter-spacing:0.720px;right:622.58px;text-align:right;">22,161.85</span>
<div style="left:1360px;top:1026px;width:1px;height:44px;background:#f5f6f9;"></div>
<div style="left:1648px;top:1026px;width:1px;height:44px;background:#f5f6f9;"></div>
<div style="left:1848.5px;top:1026px;width:1px;height:44px;background:#f5f6f9;"></div>
<span style="top:1039.36px;font-size:14px;line-height:16.80px;color:#2b2e36;letter-spacing:0.391px;left:1372.70px;">Selected:</span>
<span style="top:1039.36px;font-size:14px;line-height:16.80px;color:#1d2027;font-weight:700;letter-spacing:0.418px;left:1438.50px;">1 / $1,029,000 / Multiple UoM</span>
<span style="top:1039.36px;font-size:14px;line-height:16.80px;color:#2b2e36;letter-spacing:0.286px;left:1659.00px;">Total Cost:</span>
<span style="top:1039.36px;font-size:14px;line-height:16.80px;color:#1d2027;font-weight:700;letter-spacing:0.542px;left:1734.00px;">19 / $2,785,563</span>
<span style="top:1039.36px;font-size:14px;line-height:16.80px;color:#2b2e36;letter-spacing:0.199px;left:1859.80px;">Grand Total:</span>
<span style="top:1039.36px;font-size:14px;line-height:16.80px;color:#1d2027;font-weight:700;letter-spacing:0.428px;left:1944.10px;">19 / $3,102,659</span>
<svg style="left:1834px;top:934px;" width="24" height="32" viewBox="0 0 24 32"><defs><filter id="cs" x="-50%" y="-50%" width="200%" height="200%"><feGaussianBlur stdDeviation="1.1"/></filter></defs><path d="M5.3 6.2 V23 L9.3 19.4 L12.9 27.8 L15.4 26.8 L12 18.6 H17.6Z" fill="#7a7a90" opacity="0.35" filter="url(#cs)"/><path d="M4.3 4.2 V21 L8.3 17.4 L11.9 25.8 L14.4 24.8 L11 16.6 H16.6Z" fill="#060606" stroke="#ffffff" stroke-width="1.2" stroke-linejoin="round" paint-order="stroke"/></svg>
</body></html>
